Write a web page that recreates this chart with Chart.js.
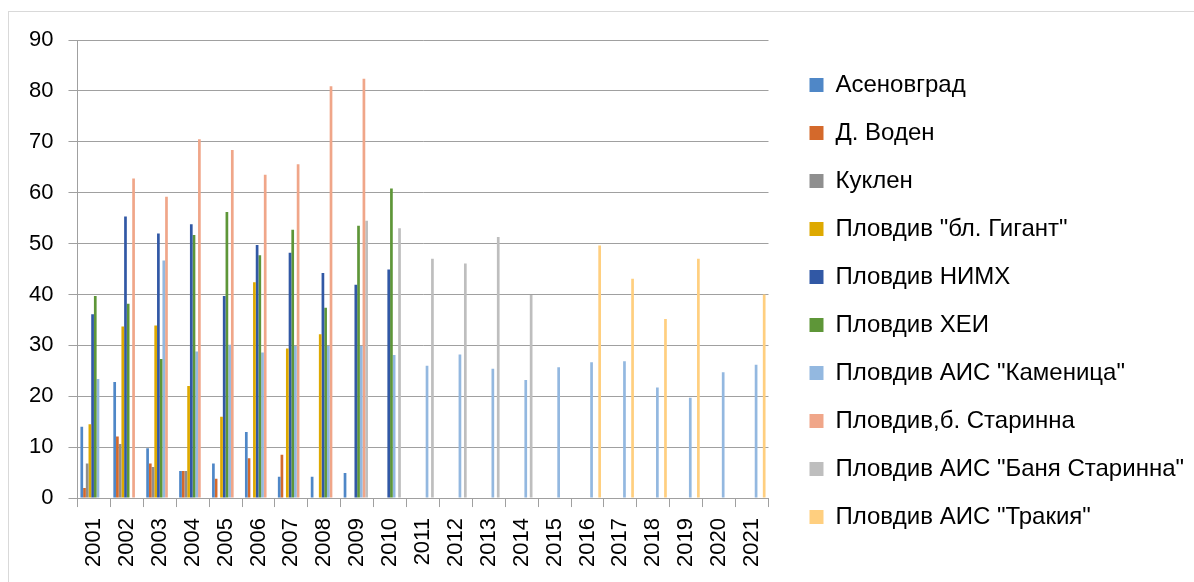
<!DOCTYPE html>
<html>
<head>
<meta charset="utf-8">
<script src="https://cdn.jsdelivr.net/npm/chart.js@4"></script>
<style>
  html, body { margin: 0; padding: 0; background: #fff; overflow: hidden; }
  #frame { position: absolute; left: 8px; top: 11px; width: 1300px; height: 700px; border: 1px solid #d9d9d9; }
  #wrap { position: absolute; left: 0; top: 0; width: 1194px; height: 582px; }
</style>
</head>
<body>
<div id="frame"></div>
<div id="wrap"><canvas id="chart" width="1194" height="582"></canvas></div>
<script>
const years = ['2001', '2002', '2003', '2004', '2005', '2006', '2007', '2008', '2009', '2010', '2011',
  '2012', '2013', '2014', '2015', '2016', '2017', '2018', '2019', '2020', '2021'];

const asenovgrad = [14.0, 22.8, 9.8, 5.3, 6.8, 13.0, 4.2, 4.2, 4.9, null, null,
  null, null, null, null, null, null, null, null, null, null];
const dVoden = [2.0, 12.1, 6.8, 5.3, 3.8, 7.8, 8.5, null, null, null, null,
  null, null, null, null, null, null, null, null, null, null];
const kuklen = [6.8, 10.6, 6.1, 5.3, null, null, null, null, null, null, null,
  null, null, null, null, null, null, null, null, null, null];
const gigant = [14.5, 33.7, 33.9, 22.0, 16.0, 42.4, 29.4, 32.2, null, null, null,
  null, null, null, null, null, null, null, null, null, null];
const nimh = [36.1, 55.3, 52.0, 53.8, 39.7, 49.7, 48.2, 44.2, 41.9, 44.9, null,
  null, null, null, null, null, null, null, null, null, null];
const hei = [39.7, 38.2, 27.3, 51.7, 56.2, 47.7, 52.7, 37.4, 53.5, 60.8, null,
  null, null, null, null, null, null, null, null, null, null];
const kamenitsa = [23.4, null, 46.7, 28.8, 30.1, 28.6, 29.9, 29.9, 29.9, 28.1, 26.0,
  28.2, 25.4, 23.2, 25.7, 26.7, 26.9, 21.7, 19.7, 24.7, 26.2];
const starinna = [null, 62.8, 59.2, 70.5, 68.4, 63.5, 65.6, 80.9, 82.4, null, null,
  null, null, null, null, null, null, null, null, null, null];
const banyaStarinna = [null, null, null, null, null, null, null, null, 54.5, 53.0, 47.0,
  46.1, 51.3, 39.9, null, null, null, null, null, null, null];
const trakia = [null, null, null, null, null, null, null, null, null, null, null,
  null, null, null, null, 49.6, 43.1, 35.2, 47.0, null, 40.0];

const yTicks = [0, 10, 20, 30, 40, 50, 60, 70, 80, 90];

const series = [
  ['Асеновград', asenovgrad, '#4F87C7'],
  ['Д. Воден', dVoden, '#D4692B'],
  ['Куклен', kuklen, '#8F8F8F'],
  ['Пловдив "бл. Гигант"', gigant, '#DEA900'],
  ['Пловдив НИМХ', nimh, '#3158A5'],
  ['Пловдив ХЕИ', hei, '#5E9638'],
  ['Пловдив АИС "Каменица"', kamenitsa, '#93B8E0'],
  ['Пловдив,б. Старинна', starinna, '#F0A689'],
  ['Пловдив АИС "Баня Старинна"', banyaStarinna, '#BEBEBE'],
  ['Пловдив АИС "Тракия"', trakia, '#FFCF7F']
];

const gridColor = '#a0a0a0';
const fontFamily = '"Liberation Sans", Arial, sans-serif';

// move legend a bit right/up of the spot Chart.js gives it
const legendNudge = {
  id: 'legendNudge',
  afterLayout(chart) {
    const lg = chart.legend;
    if (!lg) return;
    lg.left += 17; lg.right += 17;
    lg.top -= 8; lg.bottom -= 8;
  }
};

new Chart(document.getElementById('chart'), {
  type: 'bar',
  data: {
    labels: years,
    datasets: series.map(s => ({
      label: s[0],
      data: s[1],
      backgroundColor: s[2],
      borderWidth: 0,
      barPercentage: 1.0,
      categoryPercentage: 0.82
    }))
  },
  options: {
    responsive: false,
    animation: false,
    events: [],
    layout: {
      padding: { left: 14, top: 40, bottom: 4, right: 17 }
    },
    scales: {
      x: {
        grid: {
          drawOnChartArea: false,
          drawTicks: true,
          tickLength: 9,
          color: gridColor,
          offset: true
        },
        border: { color: gridColor, width: 1 },
        ticks: {
          color: '#000',
          minRotation: 90,
          maxRotation: 90,
          padding: 11,
          font: { size: 22, family: fontFamily }
        }
      },
      y: {
        min: 0,
        max: 90,
        afterBuildTicks: axis => { axis.ticks = yTicks.map(v => ({ value: v })); },
        grid: {
          color: gridColor,
          lineWidth: 1,
          tickLength: 9
        },
        border: { color: gridColor, width: 1 },
        ticks: {
          color: '#000',
          padding: 15,
          font: { size: 22, family: fontFamily }
        }
      }
    },
    plugins: {
      tooltip: { enabled: false },
      legend: {
        position: 'right',
        maxWidth: 600,
        labels: {
          boxWidth: 14,
          boxHeight: 14,
          padding: 24,
          color: '#000',
          font: { size: 24, family: fontFamily }
        }
      }
    }
  },
  plugins: [legendNudge]
});
</script>
</body>
</html>
